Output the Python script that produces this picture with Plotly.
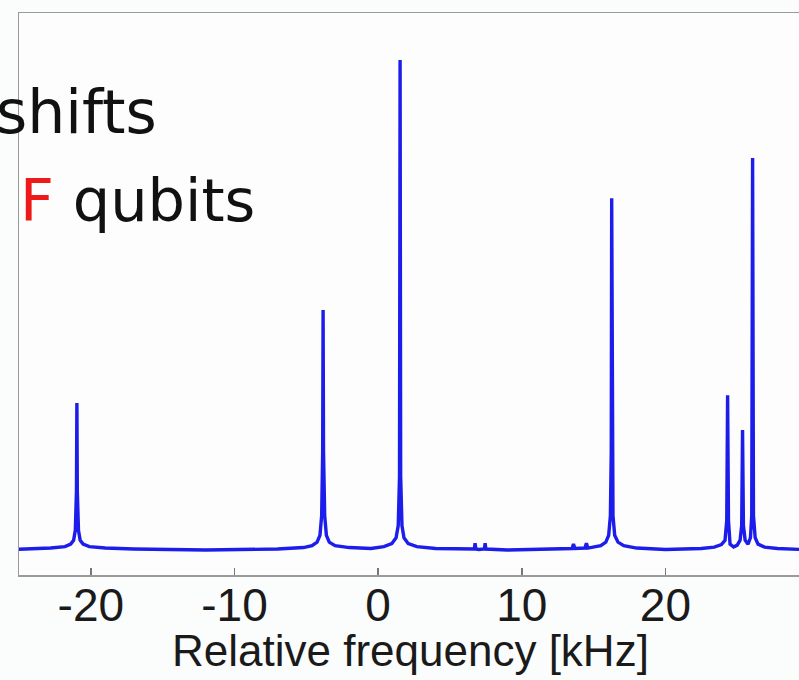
import plotly.graph_objects as go

# Spectrum trace (relative frequency in kHz, normalised intensity)
freq = [
    -25.5, -24.0, -22.8, -21.8, -21.4, -21.2, -21.08, -21.0, -20.97, -20.94, -20.86, -20.74, -20.54, -20.1, -19.0, -17.0,
    -12.0, -7.0, -5.2, -4.6, -4.25, -4.05, -3.93, -3.86, -3.83, -3.80, -3.72, -3.6, -3.4, -3.0, -2.0,
    -0.5, 0.4, 0.95, 1.25, 1.4, 1.49, 1.53, 1.57, 1.66, 1.8, 2.1, 2.7, 4.0,
    6.5, 6.7, 6.75, 6.8, 7.0, 7.4, 7.45, 7.5, 9.0, 12.0, 13.5, 13.6, 13.7, 14.4, 14.5, 14.6,
    15.0, 15.5, 15.85, 16.05, 16.17, 16.23, 16.26, 16.29, 16.35, 16.47, 16.7, 17.1, 18.0, 20.0,
    22.5, 23.4, 23.9, 24.15, 24.27, 24.33, 24.39, 24.5, 24.75, 25.0, 25.2, 25.31, 25.37, 25.43,
    25.55, 25.75, 25.92, 26.01, 26.07, 26.13, 26.25, 26.45, 26.9, 27.8, 29.5,
]
intensity = [
    0.001, 0.002, 0.004, 0.007, 0.012, 0.02, 0.04, 0.12, 0.30, 0.12, 0.04, 0.02, 0.012, 0.007, 0.004, 0.002,
    0.0, 0.002, 0.005, 0.009, 0.016, 0.03, 0.07, 0.2, 0.49, 0.2, 0.07, 0.03, 0.016, 0.009, 0.005,
    0.003, 0.007, 0.013, 0.025, 0.05, 0.15, 1.0, 0.15, 0.05, 0.025, 0.013, 0.007, 0.003,
    0.001, 0.002, 0.014, 0.002, 0.001, 0.002, 0.014, 0.002, 0.0, 0.001, 0.003, 0.012, 0.003, 0.004, 0.014, 0.004,
    0.006, 0.009, 0.016, 0.03, 0.07, 0.2, 0.718, 0.2, 0.07, 0.03, 0.016, 0.009, 0.004, 0.001,
    0.003, 0.006, 0.011, 0.02, 0.06, 0.316, 0.06, 0.012, 0.006, 0.01, 0.02, 0.05, 0.245, 0.05,
    0.02, 0.012, 0.025, 0.07, 0.80, 0.07, 0.025, 0.012, 0.006, 0.003, 0.001,
]

tick_vals = [-20, -10, 0, 10, 20]
tick_text = ["-20", "-10", "0", "10", "20"]
x_title = "Relative frequency [kHz]"

fig = go.Figure()
fig.add_trace(go.Scatter(
    x=freq, y=intensity, mode="lines",
    line=dict(color="#1c1ceb", width=3.4),
    hoverinfo="skip", showlegend=False,
))

fig.update_layout(
    width=799, height=680,
    margin=dict(l=19, r=0, t=13, b=105),
    paper_bgcolor="#fbfcfc", plot_bgcolor="#fdfdfd",
    font=dict(family="Liberation Sans, Arial, sans-serif", color="#1a1a1a"),
    xaxis=dict(
        range=[-25.0, 29.3], tickvals=tick_vals, ticktext=tick_text,
        ticks="inside", ticklen=7, tickwidth=1.5, tickcolor="#777777",
        showline=True, linecolor="#9a9a9a", linewidth=1.5, mirror=True,
        showgrid=False, zeroline=False, automargin=False,
        tickfont=dict(size=46, color="#1a1a1a"), ticklabelstandoff=-11,
    ),
    yaxis=dict(
        range=[-0.051, 1.096], showticklabels=False, ticks="",
        showline=True, linecolor="#9a9a9a", linewidth=1.5, mirror=False,
        showgrid=False, zeroline=False, automargin=False,
    ),
)

# x-axis title
fig.add_annotation(
    xref="paper", yref="paper", x=(410 - 19) / 780, y=(575 - 677) / 562,
    xanchor="center", yanchor="bottom", showarrow=False,
    text=x_title, font=dict(size=44, color="#1a1a1a"),
)

fig.add_annotation(
    xref="paper", yref="paper", x=(-6 - 19) / 780, y=(575 - 112) / 562,
    xanchor="left", yanchor="middle", showarrow=False,
    text="shifts", font=dict(family="DejaVu Sans", size=60, color="#111111"),
)
fig.add_annotation(
    xref="paper", yref="paper", x=(18 - 19) / 780, y=(575 - 200) / 562,
    xanchor="left", yanchor="middle", showarrow=False,
    text="<span style='color:#ee1a1a'>F</span> qubits",
    font=dict(family="DejaVu Sans", size=59, color="#111111"),
)

fig.write_html(
    "out.html",
    config={"displayModeBar": False, "staticPlot": True},
    post_script="document.body.style.margin='0';document.body.style.overflow='hidden';",
)
